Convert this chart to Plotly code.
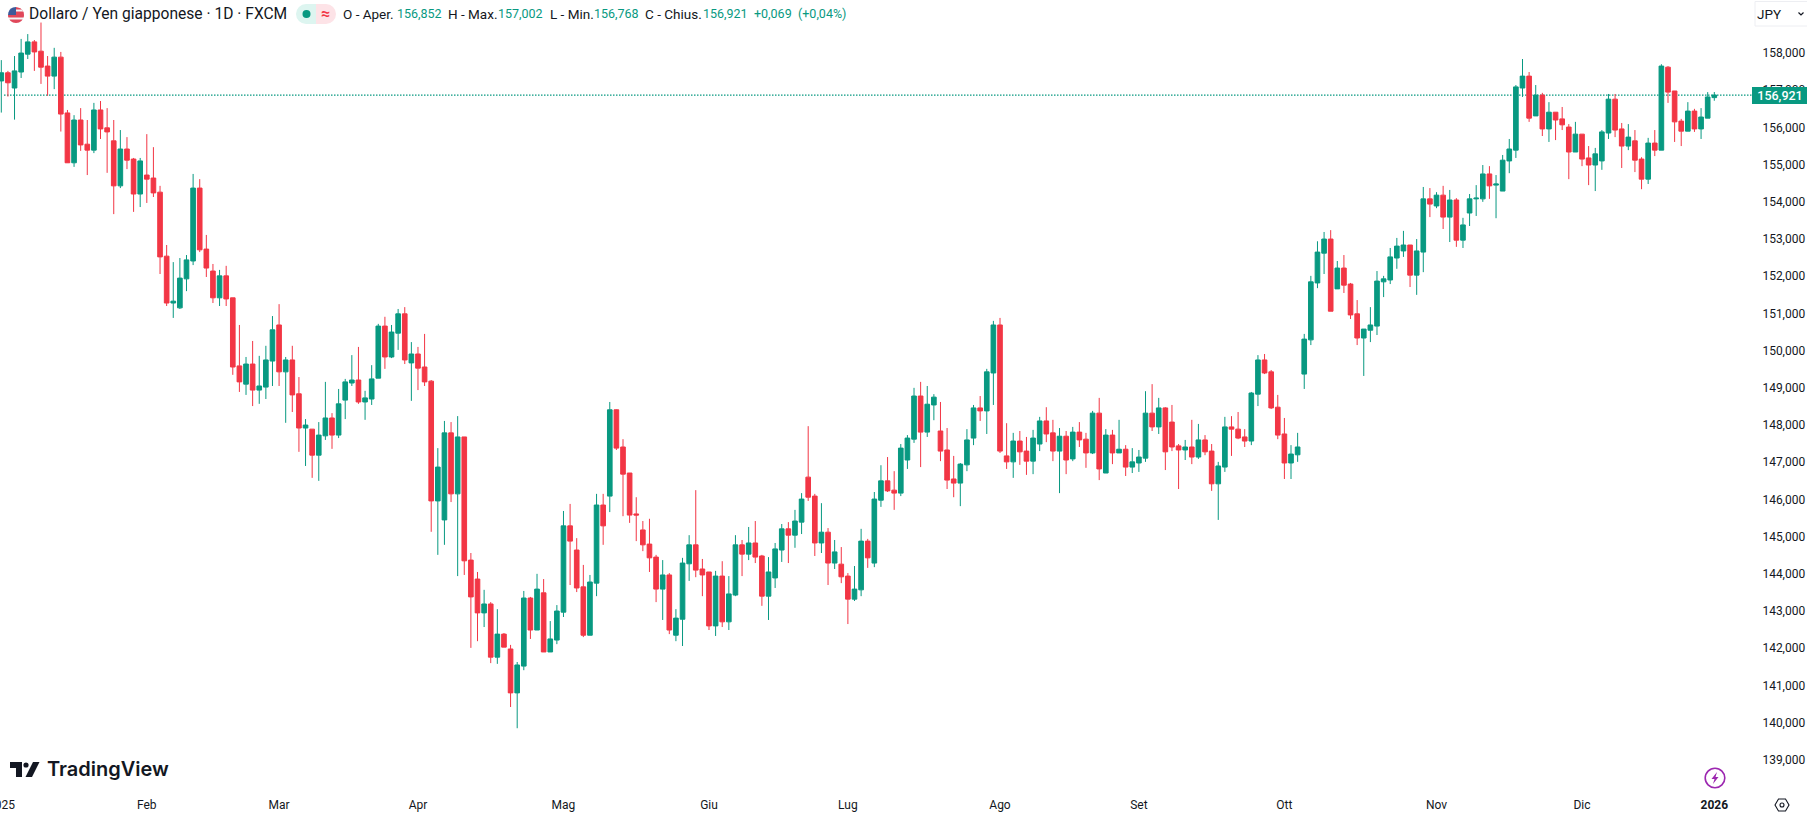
import math
import plotly.graph_objects as go

# USD/JPY daily bars, FXCM feed
open_prices = [
    157.30,157.52,157.11,157.54,158.02,158.35,158.10,157.70,157.43,157.94,
    156.44,155.10,156.25,155.60,155.44,156.52,156.04,155.69,154.48,155.47,
    155.20,154.26,154.77,154.69,154.31,152.59,151.33,151.20,151.98,152.46,
    154.42,152.78,152.19,151.47,152.06,151.47,149.64,149.15,149.69,148.99,
    149.07,149.77,150.74,149.48,149.80,148.89,147.97,147.94,147.24,147.76,
    148.24,147.78,148.72,149.18,149.26,148.67,148.75,149.31,150.71,149.88,
    150.52,151.04,149.72,149.96,149.61,149.23,146.01,145.50,147.84,146.20,
    147.73,144.42,143.91,143.00,143.24,141.81,142.43,142.03,140.85,141.57,
    143.40,142.54,143.54,141.95,142.27,143.02,145.34,144.69,143.70,142.40,
    143.80,145.90,146.14,148.46,147.46,146.76,145.66,145.23,144.85,144.50,
    143.64,144.02,142.40,142.83,144.32,144.83,144.18,144.10,142.65,143.99,
    142.76,143.48,144.83,144.58,144.88,144.53,143.45,143.94,144.69,145.26,
    145.09,145.44,146.65,146.14,144.88,145.17,144.34,144.31,143.99,143.37,
    143.62,144.93,144.34,146.03,146.55,146.30,146.22,147.11,147.67,148.83,
    147.86,148.59,147.89,147.38,146.60,146.49,146.98,147.70,148.51,148.43,
    149.45,150.74,147.22,147.06,147.62,147.35,147.08,147.54,148.16,147.84,
    147.35,147.75,147.14,147.86,147.67,147.30,148.37,146.76,147.78,147.30,
    147.40,146.92,147.03,147.16,148.37,148.00,148.51,148.13,147.49,147.38,
    147.46,147.19,147.65,147.35,146.47,146.92,148.00,147.94,147.73,147.62,
    148.88,149.80,149.48,148.53,147.81,147.03,147.25,149.42,150.34,151.87,
    152.67,153.05,151.71,152.27,151.84,151.04,150.39,150.60,150.71,151.90,
    151.95,152.54,152.73,152.89,152.08,152.70,154.13,153.94,154.23,153.64,
    154.10,153.02,153.75,154.13,154.13,154.80,154.50,154.34,155.15,155.44,
    157.11,157.43,156.36,156.92,156.01,156.46,156.28,156.06,155.39,155.87,
    155.23,155.04,155.15,155.90,156.81,156.01,155.55,155.69,155.20,154.66,
    155.63,155.44,157.67,157.03,156.22,155.95,156.49,156.01,156.30,156.852,
]
high_prices = [
    157.86,157.57,157.97,158.43,158.56,158.40,158.87,157.97,158.19,158.08,
    156.52,156.38,156.57,156.25,156.71,156.76,156.57,156.25,155.98,155.79,
    155.23,155.23,155.87,155.52,154.48,152.89,152.43,152.54,152.62,154.80,
    154.66,153.16,152.38,152.22,152.33,151.47,150.74,149.88,150.31,149.91,
    150.18,150.98,151.30,149.88,150.18,149.34,148.21,147.94,148.13,149.21,
    148.37,149.02,149.29,149.93,150.15,148.97,149.66,150.77,150.96,150.74,
    151.17,151.22,150.28,150.15,150.50,149.26,147.43,148.16,148.13,148.29,
    147.73,144.61,144.10,143.62,143.29,143.10,142.46,142.14,141.68,143.59,
    143.43,144.05,143.91,142.78,143.21,145.74,145.93,145.01,144.29,144.02,
    146.20,146.20,148.67,148.47,147.67,146.76,146.11,145.47,145.53,144.56,
    144.42,144.07,143.10,144.48,145.09,146.30,144.45,144.10,144.13,144.39,
    143.99,145.09,144.96,145.31,145.47,144.56,144.50,144.88,145.39,145.44,
    145.77,146.22,148.02,146.20,145.95,145.28,144.96,144.77,144.07,144.26,
    145.26,144.99,146.25,146.97,147.19,146.81,147.54,147.78,149.05,149.21,
    149.10,148.88,148.67,147.97,147.22,147.03,147.94,148.59,148.83,149.56,
    150.85,150.93,148.10,147.84,147.89,147.73,147.92,148.27,148.53,148.19,
    147.97,147.89,148.00,148.13,147.84,148.43,148.78,147.94,147.92,148.19,
    147.51,147.43,147.38,148.96,149.15,148.78,148.53,148.59,147.54,147.65,
    148.19,148.08,147.78,147.54,147.06,148.27,148.29,148.40,147.94,148.94,
    149.93,149.96,149.53,148.86,148.24,147.51,147.84,150.50,152.06,152.99,
    153.24,153.29,152.46,152.62,151.87,151.41,150.63,151.22,152.19,152.06,
    152.81,153.08,153.27,152.89,153.05,154.45,154.42,154.31,154.48,154.37,
    154.15,153.62,154.26,154.50,155.04,155.01,154.77,155.31,155.74,157.19,
    157.89,157.54,157.19,156.98,156.73,156.46,156.60,156.14,156.20,155.87,
    155.55,155.50,155.98,156.95,156.95,156.17,156.14,155.98,155.25,155.77,
    155.98,157.75,157.70,157.03,156.28,156.73,156.55,156.57,157.00,157.002,
]
low_prices = [
    156.45,156.88,156.26,157.38,157.89,157.57,157.22,156.90,157.08,155.94,
    155.10,154.99,155.42,154.77,155.36,155.74,154.83,153.72,154.42,154.93,
    153.78,153.91,154.02,154.18,152.11,151.25,150.93,151.17,151.65,152.35,
    152.70,152.03,151.33,151.25,151.25,149.40,148.94,148.86,148.56,148.62,
    148.75,149.10,149.10,148.11,148.40,147.33,146.95,146.63,146.55,147.65,
    147.41,147.70,148.21,149.10,148.62,148.19,148.59,149.31,149.56,149.85,
    150.07,149.69,148.70,148.99,149.10,145.18,144.56,144.83,145.98,143.99,
    144.02,142.06,142.24,142.62,141.65,141.63,142.08,140.47,139.90,141.46,
    142.30,142.54,141.95,141.95,142.16,142.89,143.75,143.56,142.35,142.40,
    143.45,144.83,145.71,147.38,145.60,145.42,144.93,144.66,144.10,143.29,
    142.81,142.43,142.24,142.11,143.86,143.96,143.45,142.54,142.38,142.62,
    142.54,143.45,143.99,144.42,144.34,143.19,142.81,143.67,144.37,144.34,
    144.75,145.12,146.01,144.53,144.61,143.75,144.18,143.80,142.70,143.32,
    143.45,144.21,144.23,145.85,146.25,145.77,146.14,146.87,147.57,146.92,
    147.73,148.18,147.08,146.33,146.11,145.87,146.81,147.51,148.16,147.81,
    148.59,147.30,146.87,146.63,146.98,146.71,146.73,147.35,147.59,147.08,
    146.22,146.73,147.08,147.46,146.90,147.27,146.57,146.76,147.00,147.30,
    146.68,146.76,146.79,147.06,147.89,147.81,146.84,147.35,146.33,147.11,
    147.00,147.14,147.24,146.28,145.50,146.79,147.22,147.67,147.46,147.51,
    148.56,149.42,148.48,147.67,146.60,146.60,147.06,149.02,150.20,151.73,
    152.11,151.11,151.71,151.60,150.90,150.20,149.37,150.28,150.47,151.49,
    151.84,152.25,152.57,151.76,151.55,152.16,153.64,153.88,153.32,152.97,
    152.84,152.81,153.40,153.67,154.05,154.13,153.61,154.34,154.82,155.23,
    156.87,156.20,156.36,155.82,155.66,155.71,155.98,154.66,155.39,155.01,
    154.50,154.34,154.91,155.74,155.79,154.96,155.44,154.85,154.39,154.53,
    155.28,155.44,156.71,155.66,155.55,155.95,155.93,155.74,156.30,156.768,
]
close_prices = [
    157.52,157.25,157.57,158.05,158.35,158.08,157.67,157.43,157.94,156.41,
    155.10,156.25,155.58,155.44,156.52,156.01,155.93,154.48,155.47,155.17,
    154.26,155.15,154.66,154.29,152.57,151.33,151.38,152.00,152.49,154.42,
    152.76,152.27,151.47,152.06,151.44,149.61,149.21,149.69,148.99,149.10,
    149.80,150.61,149.48,149.80,148.86,147.97,148.05,147.24,147.78,148.24,
    147.78,148.62,149.21,149.26,148.67,148.78,149.29,150.71,149.88,150.55,
    151.04,149.80,149.96,149.58,149.21,146.01,146.92,147.84,146.20,147.73,
    144.40,143.43,143.00,143.24,141.81,142.43,142.08,140.85,141.60,143.40,
    142.54,143.64,141.95,142.30,143.05,145.34,144.93,143.67,142.40,143.83,
    145.90,145.34,148.46,147.43,146.73,145.63,145.63,144.83,144.48,143.64,
    144.02,142.54,142.86,144.34,144.83,144.15,144.02,142.65,143.99,142.76,
    143.51,144.83,144.58,144.88,144.50,143.45,144.10,144.72,145.26,145.09,
    145.47,146.06,146.11,144.88,145.17,144.34,144.64,143.97,143.37,143.64,
    144.93,144.48,146.06,146.55,146.28,146.22,147.43,147.70,148.83,147.86,
    148.61,148.80,147.35,146.57,146.49,147.00,147.65,148.51,148.43,149.48,
    150.74,147.35,147.06,147.62,147.33,147.08,147.70,148.16,147.81,147.35,
    147.75,147.11,147.86,147.65,147.30,148.37,146.87,147.78,147.30,147.40,
    146.92,147.06,147.19,148.37,148.00,148.51,147.33,147.46,147.38,147.46,
    147.19,147.65,147.33,146.47,146.95,148.00,147.94,147.70,147.62,148.91,
    149.80,149.45,148.51,147.78,147.03,147.27,147.46,150.36,151.90,152.70,
    153.05,151.11,152.27,151.81,151.01,150.39,150.63,150.74,151.92,151.98,
    152.57,152.86,152.89,152.08,152.73,154.13,153.99,154.23,153.64,154.10,
    153.02,153.43,154.13,154.15,154.80,154.48,154.53,155.17,155.47,157.14,
    157.43,156.30,156.92,156.01,156.46,156.25,156.12,155.39,155.87,155.20,
    155.04,155.34,155.93,156.81,155.98,155.55,155.79,155.17,154.66,155.63,
    155.44,157.70,157.00,156.20,155.95,156.49,156.01,156.33,156.87,156.921,
]
bar_index = list(range(len(open_prices)))

first_year_label = "2025"
month_bars = [22, 42, 63, 85, 107, 128, 151, 172, 194, 217, 239, 259]
month_labels = ["Feb", "Mar", "Apr", "Mag", "Giu", "Lug", "Ago", "Set", "Ott", "Nov", "Dic", "<b>2026</b>"]
price_ticks = list(range(139, 159))
price_labels = [f"{p},000" for p in price_ticks]
last_price = close_prices[-1]

UP = "#089981"
DOWN = "#F23645"
INK = "#131722"
FONT = "Roboto, sans-serif"

WIDTH, HEIGHT = 1807, 815
PLOT_W, PLOT_H = 1752, 787


def px(x):
    return x / PLOT_W


def py(y):
    return 1 - y / PLOT_H


def svg_path(points, close=True):
    head = f"M{px(points[0][0]):.5f},{py(points[0][1]):.5f}"
    body = "".join(f"L{px(a):.5f},{py(b):.5f}" for a, b in points[1:])
    return head + body + ("Z" if close else "")


def rect(x0, y0, x1, y1, fill, line=None, width=0):
    return dict(type="rect", xref="paper", yref="paper", x0=px(x0), x1=px(x1), y0=py(y0), y1=py(y1),
                fillcolor=fill, line=dict(color=line or fill, width=width), layer="above")


def circle(cx, cy, r, fill="rgba(0,0,0,0)", line=None, width=0):
    return dict(type="circle", xref="paper", yref="paper", x0=px(cx - r), x1=px(cx + r), y0=py(cy + r), y1=py(cy - r),
                fillcolor=fill, line=dict(color=line or "rgba(0,0,0,0)", width=width), layer="above")


def poly(points, fill="rgba(0,0,0,0)", line=None, width=0, close=True):
    return dict(type="path", xref="paper", yref="paper", path=svg_path(points, close),
                fillcolor=fill, line=dict(color=line or "rgba(0,0,0,0)", width=width), layer="above")


def band(cx, cy, r, top, bottom, fill, right_of=None):
    """Horizontal slice of a round badge between two heights, optionally cut at a left limit."""
    left_edge, right_edge = [], []
    for step in range(7):
        y = top + (bottom - top) * step / 6
        half = math.sqrt(max(r * r - (y - cy) ** 2, 0))
        x_left = cx - half if right_of is None else max(cx - half, right_of)
        left_edge.append((x_left, y))
        right_edge.append((cx + half, y))
    return poly(right_edge + left_edge[::-1], fill=fill)


def label(x, y, text, size=13, color=INK, anchor="left", family=FONT, **kw):
    return dict(xref="paper", yref="paper", x=px(x), y=py(y), text=text, showarrow=False,
                xanchor=anchor, yanchor="middle", font=dict(size=size, color=color, family=family, **kw),
                borderpad=0, borderwidth=0)


shapes = [
    # last price line
    dict(type="line", xref="paper", yref="y", x0=px(4), x1=1, y0=last_price, y1=last_price,
         line=dict(color=UP, width=1.2, dash="1.5px,1.5px"), layer="below"),
    # currency pair badge
    circle(16, 15, 8, fill="#f4f4f4"),
    band(16, 15, 8, 7, 15, "#E0475A", right_of=16),
    band(16, 15, 8, 9.5, 11.5, "#f4f4f4", right_of=16),
    poly([(9.5, 10), (11, 8.5), (13, 7.5), (16, 7), (16, 15), (8, 15), (8.4, 12.5)], fill="#3C5A9A"),
    band(16, 15, 8, 15, 17.5, "#E0475A"),
    band(16, 15, 8, 19.5, 23, "#E0475A"),
    # market status pill
    circle(306, 14, 10, fill="#DDF5F0"),
    rect(306, 4, 316, 24, "#DDF5F0"),
    rect(316, 4, 326, 24, "#FDE3E7"),
    circle(326, 14, 10, fill="#FDE3E7"),
    circle(306.5, 14, 4, fill=UP),
    # logo mark
    poly([(10, 762), (22, 762), (22, 777), (16, 777), (16, 768), (10, 768)], fill=INK),
    circle(26, 765, 2.6, fill=INK),
    poly([(33, 762), (39.5, 762), (32, 777), (25.5, 777)], fill=INK),
    # action badge
    circle(1715, 778, 9.8, line="#9C27B0", width=1.6),
    poly([(1717, 772), (1711.5, 779), (1714.5, 779), (1713, 784), (1718.5, 777), (1715.5, 777)], fill="#9C27B0"),
    # settings hexagon
    poly([(1775, 805), (1778.5, 799), (1785.5, 799), (1789, 805), (1785.5, 811), (1778.5, 811)],
         line=INK, width=1.1),
    circle(1782, 805, 2, line=INK, width=1.1),
    # unit button outline and caret
    dict(type="rect", xref="paper", yref="paper", x0=px(1755), x1=px(1812), y0=py(26), y1=py(1.5),
         fillcolor="#ffffff", line=dict(color="#EDEEF2", width=1), layer="above"),
    poly([(1798.5, 12.5), (1801, 15), (1803.5, 12.5)], line=INK, width=1.2, close=False),
]

annotations = [
    label(29, 14, "Dollaro / Yen giapponese · 1D · FXCM", size=15.6),
    label(325.5, 13.5, "<b>≈</b>", size=16, color=DOWN, anchor="center"),
    label(343, 14, "O - Aper.", size=13.5),
    label(397, 14, "156,852", size=12.5, color=UP),
    label(448, 14, "H - Max.", size=13.5),
    label(498, 14, "157,002", size=12.5, color=UP),
    label(550, 14, "L - Min.", size=13.5),
    label(594, 14, "156,768", size=12.5, color=UP),
    label(645, 14, "C - Chius.", size=13.5),
    label(703, 14, "156,921", size=12.5, color=UP),
    label(754, 14, "+0,069", size=12.5, color=UP),
    label(798, 14, "(+0,04%)", size=12.5, color=UP),
    label(47, 769, "TradingView", size=20, family="Inter, sans-serif", weight=600),
    label(1768.5, 14, "JPY", size=13.5, anchor="center"),
    label(1.5, 805, first_year_label, size=12, anchor="center"),
    dict(xref="paper", yref="y", x=1, y=last_price, text=f"{last_price:.3f}".replace(".", ","),
         showarrow=False, xanchor="left", yanchor="middle", width=56, height=17, align="center", bgcolor=UP,
         borderpad=0, borderwidth=0, font=dict(size=12.5, color="#ffffff", family=FONT, weight=500)),
]

fig = go.Figure(
    go.Candlestick(
        x=bar_index,
        open=open_prices,
        high=high_prices,
        low=low_prices,
        close=close_prices,
        whiskerwidth=0,
        hoverinfo="skip",
        increasing=dict(line=dict(color=UP, width=1), fillcolor=UP),
        decreasing=dict(line=dict(color=DOWN, width=1), fillcolor=DOWN),
    )
)

fig.update_layout(
    width=WIDTH,
    height=HEIGHT,
    margin=dict(l=0, r=WIDTH - PLOT_W, t=0, b=HEIGHT - PLOT_H, pad=0),
    paper_bgcolor="#ffffff",
    plot_bgcolor="#ffffff",
    showlegend=False,
    boxgap=0.3,
    boxgroupgap=0,
    font=dict(family=FONT, color=INK, size=12),
    shapes=shapes,
    annotations=annotations,
    xaxis=dict(
        range=[-0.197, 264.7],
        rangeslider=dict(visible=False),
        showgrid=False,
        zeroline=False,
        showline=False,
        tickmode="array",
        tickvals=month_bars,
        ticktext=month_labels,
        ticks="outside",
        ticklen=7,
        tickcolor="rgba(0,0,0,0)",
        tickfont=dict(size=12, color=INK, family=FONT),
    ),
    yaxis=dict(
        range=[138.320, 159.476],
        side="right",
        showgrid=False,
        zeroline=False,
        showline=False,
        tickmode="array",
        tickvals=price_ticks,
        ticktext=price_labels,
        ticks="outside",
        ticklen=7,
        tickcolor="rgba(0,0,0,0)",
        ticklabelshift=-2,
        tickfont=dict(size=12, color=INK, family=FONT),
    ),
)

fig.write_html("out.html", config=dict(displayModeBar=False))
